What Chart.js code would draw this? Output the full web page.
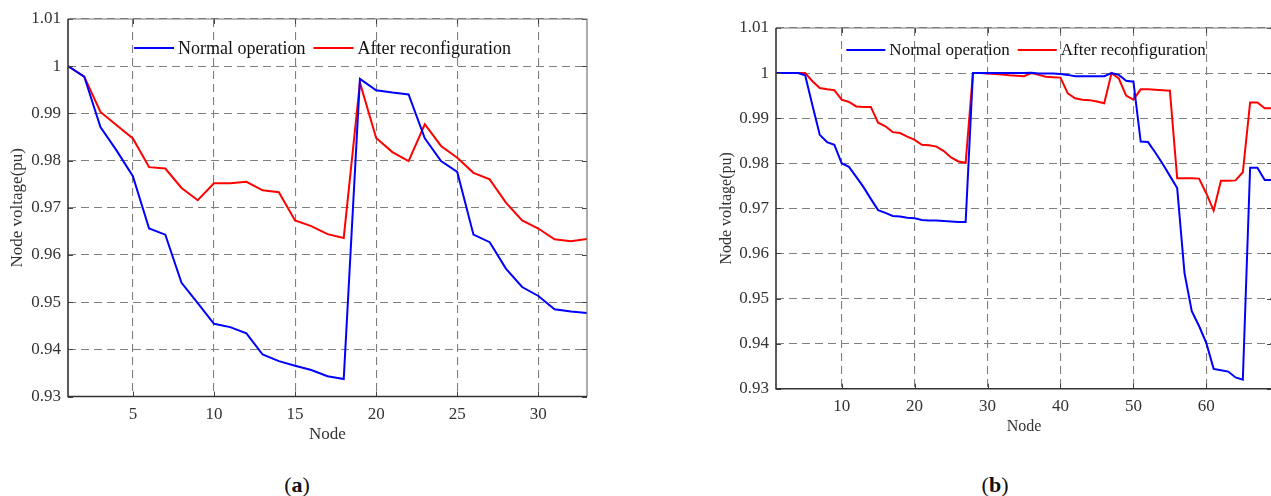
<!DOCTYPE html>
<html>
<head>
<meta charset="utf-8">
<script src="https://cdn.jsdelivr.net/npm/chart.js@4.4.1/dist/chart.umd.min.js"></script>
<style>
  html, body { margin: 0; padding: 0; background: #fff; overflow: hidden; }
  body { width: 1271px; height: 496px; position: relative; }
  canvas { position: absolute; top: 0; }
  #chartA { left: 0; }
  #chartB { left: 700px; }
  .caption {
    position: absolute; top: 472px; transform: translateX(-50%);
    font-family: 'Liberation Serif', 'Times New Roman', serif;
    font-size: 22px; line-height: 26px; color: #111;
  }
</style>
</head>
<body>
<canvas id="chartA" width="600" height="450"></canvas>
<canvas id="chartB" width="575" height="440"></canvas>
<div class="caption" style="left:297px">(<b>a</b>)</div>
<div class="caption" style="left:995px">(<b>b</b>)</div>
<script>
// 33-node system
const nodesA = [1, 2, 3, 4, 5, 6, 7, 8, 9, 10, 11, 12, 13, 14, 15, 16, 17, 18, 19, 20,
    21, 22, 23, 24, 25, 26, 27, 28, 29, 30, 31, 32, 33];
const normalA = [1.0, 0.9978, 0.9871, 0.9821, 0.9767, 0.9656, 0.9643, 0.9541, 0.9498, 0.9454,
    0.9447, 0.9434, 0.9389, 0.9375, 0.9365, 0.9356, 0.9343, 0.9337, 0.9973, 0.9949,
    0.9944, 0.9940, 0.9847, 0.9799, 0.9776, 0.9643, 0.9627, 0.9571, 0.9532, 0.9513,
    0.9485, 0.9480, 0.9477];
const afterA = [1.0, 0.9978, 0.9903, 0.9875, 0.9847, 0.9786, 0.9783, 0.9742, 0.9716, 0.9752,
    0.9752, 0.9755, 0.9737, 0.9733, 0.9673, 0.9661, 0.9644, 0.9636, 0.9965, 0.9848,
    0.9818, 0.9799, 0.9877, 0.9831, 0.9806, 0.9774, 0.9760, 0.9711, 0.9673, 0.9656,
    0.9633, 0.9629, 0.9634];

// 69-node system
const nodesB = [1, 2, 3, 4, 5, 6, 7, 8, 9, 10, 11, 12, 13, 14, 15, 16, 17, 18, 19, 20,
    21, 22, 23, 24, 25, 26, 27, 28, 29, 30, 31, 32, 33, 34, 35, 36, 37, 38, 39, 40,
    41, 42, 43, 44, 45, 46, 47, 48, 49, 50, 51, 52, 53, 54, 55, 56, 57, 58, 59, 60,
    61, 62, 63, 64, 65, 66, 67, 68, 69];
const normalB = [1.0, 1.0, 1.0, 1.0, 0.9995, 0.9928, 0.9863, 0.9847, 0.9841, 0.9800,
    0.9792, 0.9770, 0.9747, 0.9721, 0.9696, 0.9690, 0.9683, 0.9682, 0.9679, 0.9678,
    0.9674, 0.9673, 0.9673, 0.9672, 0.9671, 0.9670, 0.9670, 1.0, 1.0, 1.0,
    1.0, 1.0, 1.0, 1.0, 1.0, 1.0001, 0.9999, 0.9999, 0.9999, 0.9998,
    0.9996, 0.9993, 0.9993, 0.9993, 0.9993, 0.9993, 1.0, 0.9996, 0.9983, 0.9981,
    0.9848, 0.9847, 0.9824, 0.9799, 0.9772, 0.9745, 0.9557, 0.9472, 0.9439, 0.9401,
    0.9344, 0.9341, 0.9338, 0.9325, 0.9320, 0.9790, 0.9790, 0.9763, 0.9763];
const afterB = [1.0, 1.0, 1.0, 1.0, 1.0, 0.9982, 0.9967, 0.9964, 0.9962, 0.9941,
    0.9936, 0.9926, 0.9925, 0.9925, 0.9890, 0.9882, 0.9869, 0.9867, 0.9859, 0.9852,
    0.9841, 0.9840, 0.9837, 0.9827, 0.9813, 0.9804, 0.9801, 1.0, 1.0, 0.9999,
    0.9998, 0.9997, 0.9995, 0.9994, 0.9993, 1.0, 0.9996, 0.9992, 0.9991, 0.9990,
    0.9955, 0.9944, 0.9941, 0.9940, 0.9937, 0.9933, 1.0, 0.9988, 0.9950, 0.9941,
    0.9964, 0.9964, 0.9963, 0.9962, 0.9961, 0.9767, 0.9767, 0.9767, 0.9766, 0.9733,
    0.9695, 0.9761, 0.9761, 0.9762, 0.9780, 0.9935, 0.9935, 0.9922, 0.9922];

const seriesNames = ['Normal operation', 'After reconfiguration'];
const serif = "'Liberation Serif', 'Times New Roman', serif";

// box round the plot, with small ticks pointing inward
const frameTicks = {
    id: 'frameTicks',
    afterDraw(chart) {
        const { ctx, chartArea: a, scales: { x, y } } = chart;
        ctx.save();
        ctx.strokeStyle = '#444';
        ctx.lineWidth = 1;
        ctx.beginPath();
        x.ticks.forEach(t => {
            const px = Math.round(x.getPixelForValue(t.value)) + 0.5;
            ctx.moveTo(px, a.bottom); ctx.lineTo(px, a.bottom - 5);
            ctx.moveTo(px, a.top); ctx.lineTo(px, a.top + 5);
        });
        y.ticks.forEach(t => {
            const py = Math.round(y.getPixelForValue(t.value)) + 0.5;
            ctx.moveTo(a.left, py); ctx.lineTo(a.left + 5, py);
            ctx.moveTo(a.right, py); ctx.lineTo(a.right - 5, py);
        });
        ctx.stroke();
        ctx.strokeStyle = '#777';
        ctx.lineWidth = 1.2;
        ctx.beginPath();
        ctx.moveTo(a.left, a.top); ctx.lineTo(a.right, a.top); ctx.lineTo(a.right, a.bottom);
        ctx.stroke();
        ctx.strokeStyle = '#333';
        ctx.lineWidth = 1.6;
        ctx.beginPath();
        ctx.moveTo(a.left, a.top); ctx.lineTo(a.left, a.bottom); ctx.lineTo(a.right, a.bottom);
        ctx.stroke();
        ctx.restore();
    }
};

// one-row legend drawn inside the plot, near the top
const insideLegend = {
    id: 'insideLegend',
    afterDatasetsDraw(chart, args, opts) {
        const { ctx, chartArea: a } = chart;
        ctx.save();
        ctx.font = opts.size + 'px ' + serif;
        const items = chart.data.datasets.map(ds => ({
            label: ds.label,
            color: ds.borderColor,
            w: ctx.measureText(ds.label).width
        }));
        const total = items.reduce((s, it) => s + opts.lineLen + opts.gap + it.w, 0)
            + opts.spacing * (items.length - 1);
        let x = (a.left + a.right) / 2 - total / 2 + opts.shift;
        const y = a.top + opts.offset;
        ctx.textBaseline = 'middle';
        ctx.textAlign = 'left';
        items.forEach(it => {
            ctx.strokeStyle = it.color;
            ctx.lineWidth = 2;
            ctx.beginPath();
            ctx.moveTo(x, y); ctx.lineTo(x + opts.lineLen, y);
            ctx.stroke();
            x += opts.lineLen + opts.gap;
            ctx.fillStyle = '#111';
            ctx.fillText(it.label, x, y + 1);
            x += it.w + opts.spacing;
        });
        ctx.restore();
    }
};

function makeChart(id, nodes, normal, after, cfg) {
    const toPoints = vals => vals.map((v, i) => ({ x: nodes[i], y: v }));
    return new Chart(document.getElementById(id), {
        type: 'line',
        data: {
            datasets: [{
                label: seriesNames[0],
                data: toPoints(normal),
                borderColor: '#0000ff',
                backgroundColor: '#0000ff',
                borderWidth: 2,
                pointRadius: 0,
                tension: 0
            }, {
                label: seriesNames[1],
                data: toPoints(after),
                borderColor: '#ff0000',
                backgroundColor: '#ff0000',
                borderWidth: 2,
                pointRadius: 0,
                tension: 0
            }]
        },
        options: {
            responsive: false,
            animation: false,
            layout: { padding: { top: cfg.padTop, right: cfg.padRight, left: 0, bottom: 0 } },
            plugins: {
                tooltip: { enabled: false },
                legend: { display: false },
                insideLegend: cfg.legend
            },
            scales: {
                x: {
                    type: 'linear',
                    min: 1,
                    max: nodes[nodes.length - 1],
                    afterBuildTicks: axis => {
                        axis.ticks = axis.ticks.filter(t => t.value % cfg.xStep === 0);
                    },
                    afterFit: axis => { axis.height = cfg.xAxisH; },
                    ticks: {
                        stepSize: cfg.xStep,
                        padding: 8,
                        color: '#333',
                        maxRotation: 0,
                        font: { family: serif, size: 17 }
                    },
                    grid: {
                        color: '#808080',
                        lineWidth: 1.1,
                        drawTicks: false
                    },
                    border: { display: false, dash: [8, 5] },
                    title: {
                        display: true,
                        text: 'Node',
                        color: '#333',
                        font: { family: serif, size: cfg.titleFont },
                        padding: { top: 0, bottom: cfg.xTitlePad }
                    }
                },
                y: {
                    min: 0.93,
                    max: 1.01,
                    afterFit: axis => { axis.width = cfg.yAxisW; },
                    ticks: {
                        stepSize: 0.01,
                        padding: 7,
                        color: '#333',
                        font: { family: serif, size: 17 },
                        callback: v => String(+v.toFixed(2))
                    },
                    grid: {
                        color: '#808080',
                        lineWidth: 1.1,
                        drawTicks: false
                    },
                    border: { display: false, dash: [8, 5] },
                    title: {
                        display: true,
                        text: 'Node voltage(pu)',
                        color: '#333',
                        font: { family: serif, size: cfg.titleFont },
                        padding: { top: cfg.yTitlePad, bottom: 0 }
                    }
                }
            }
        },
        plugins: [frameTicks, insideLegend]
    });
}

makeChart('chartA', nodesA, normalA, afterA, {
    padTop: 19, padRight: 13, yAxisW: 68, xAxisH: 53.5, xStep: 5,
    titleFont: 17, xTitlePad: 5, yTitlePad: 7,
    legend: { size: 18, lineLen: 40, gap: 4, spacing: 8, offset: 29, shift: -5 }
});
makeChart('chartB', nodesB, normalB, afterB, {
    padTop: 28, padRight: 3, yAxisW: 76, xAxisH: 51.3, xStep: 10,
    titleFont: 16, xTitlePad: 4, yTitlePad: 17,
    legend: { size: 17, lineLen: 39, gap: 4, spacing: 8, offset: 22, shift: 2 }
});
</script>
</body>
</html>
